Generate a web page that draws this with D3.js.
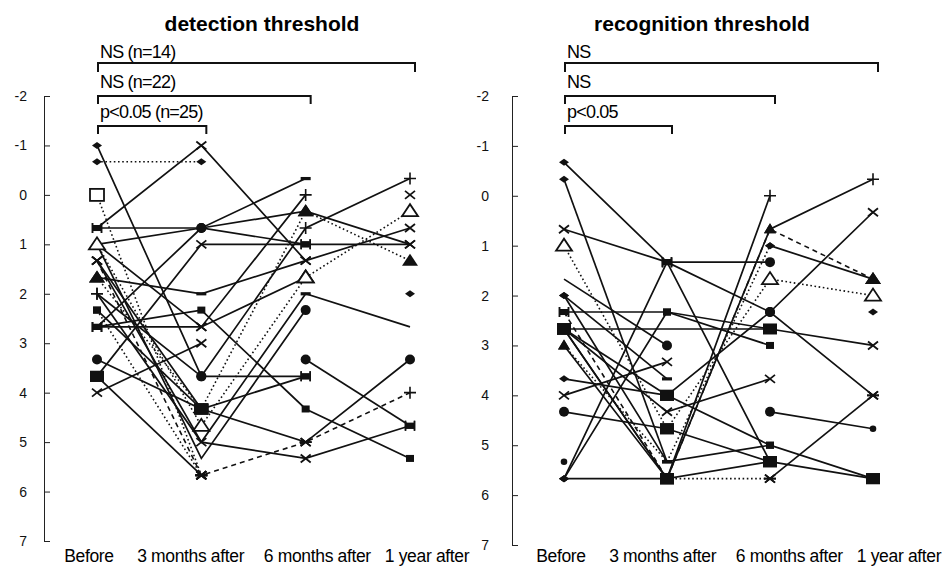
<!DOCTYPE html>
<html><head><meta charset="utf-8">
<script src="https://cdn.jsdelivr.net/npm/d3@7"></script>
<style>
html,body{margin:0;padding:0;background:#fff;}
svg{display:block;font-family:"Liberation Sans",Arial,sans-serif;}
</style></head>
<body><svg id="chart" width="943" height="568"></svg>
<script>
// ---------------- DATA ----------------
const timepoints = ["Before", "3 months after", "6 months after", "1 year after"];
const yTicks = [-2, -1, 0, 1, 2, 3, 4, 5, 6, 7];

// detection threshold: one row per subject, values at the four time points
const detectionValues = [
  [-1, 3.67, 3.67, null],
  [-0.67, -0.67, null, null],
  [0, 5.67, null, null],
  [0.67, -1, 1.33, null],
  [0.67, 0.67, -0.33, null],
  [1, 0.67, 0.33, 1],
  [1, 2.67, 0, null],
  [3.67, 1, 1, 1],
  [1.33, 5.67, 5, 4],
  [3.67, 5.67, null, null],
  [2.67, 0.67, 1, null],
  [1.67, 2, 1.33, 0.67],
  [2.67, 2.67, 1.67, null],
  [2.67, 2.33, 4.33, 5.33],
  [3.33, 4.33, 3.67, null],
  [1.33, 4.33, 5, 3.33],
  [4, 3, null, null],
  [2, 5, 5.33, 4.67],
  [1, 5.33, 2.33, null],
  [1.33, 5, 2, 2.67],
  [null, null, 3.33, 4.67],
  [1, 4.67, 1.67, 0.33],
  [1.67, 4.33, 0.33, 1.33],
  [2.33, 4.33, null, null],
  [null, null, null, 2],
  [null, null, null, 0],
  [2, 3.67, 0.67, -0.33],
  [2.33, 5.67, null, null]
];
const detectionMarkers = [
  "dcb-", "dd--", "qa--", "bxx-", "bch-", "t-Tx", "txp-", "Sxbx", "xaap", "Sa--",
  "bcb-", "Thxx", "bxo-", "bsss", "cSb-", "xSac", "xx--", "pxxb", "t-c-", "x-h-",
  "--cb", "oooo", "TSTT", "sS--", "---d", "---x", "pcpp", "sa--"
];
const detectionDash = [
  "solid", "dotted", "dotted", "solid", "solid", "solid", "solid", "solid", "dashed", "solid",
  "solid", "solid", "solid", "solid", "solid", "solid", "solid", "solid", "solid", "solid",
  "solid", "dotted", "dotted", "solid", "solid", "solid", "solid", "dotted"
];
const detectionBracketLabels = ["NS (n=14)", "NS (n=22)", "p<0.05 (n=25)"];

// recognition threshold
const recognitionValues = [
  [-0.67, 1.33, 1.33, null],
  [-0.33, 5.33, null, null],
  [0.67, 1.33, 2.33, 0.33],
  [1, 4.67, 1.67, 2],
  [1.67, 3, null, null],
  [2, 5.33, 5, 5.67],
  [2.33, 2.33, 2.67, null],
  [2.67, 2.67, 2.67, 3],
  [2.67, 5.67, 0, null],
  [3, 5.67, 0.67, -0.33],
  [3.67, 4, 2.33, 4],
  [4, 3.33, null, null],
  [4.33, 4.67, 5.33, 5.67],
  [5.67, 5.67, null, null],
  [null, 5.67, 5.67, null],
  [null, null, 5.67, 4],
  [5.67, 2.33, 3, null],
  [5.67, 1.33, 5.33, null],
  [2.67, 4.33, 3.67, null],
  [3, 5.33, 1, null],
  [null, null, 1, 1.67],
  [null, null, 4.33, 4.67],
  [null, null, null, 2.33],
  [5.33, null, null, null],
  [2.67, 5.67, 5.33, null],
  [2.33, 5.67, 0.67, 1.67],
  [2.67, 4, 5, null],
  [2, 3.67, null, null]
];
const recognitionMarkers = [
  "dbc-", "dh--", "xbcx", "oSoo", "-c--", "dhsS", "bsS-", "S-bx", "SSp-", "tStp",
  "dSca", "xx--", "cSSS", "dS--", "-Sa-", "--aa", "dss-", "dbS-", "Sxx-", "thd-",
  "--dT", "--ck", "---d", "k---", "SSS-", "bStT", "SSs-", "dh--"
];
const recognitionDash = [
  "solid", "solid", "solid", "dotted", "solid", "solid", "solid", "solid", "solid", "solid",
  "solid", "solid", "solid", "solid", "dotted", "solid", "solid", "solid", "solid", "dotted",
  "solid", "solid", "solid", "solid", "solid", "dashed", "solid", "solid"
];
const recognitionBracketLabels = ["NS", "NS", "p<0.05"];
const bracketEnds = [3, 2, 1];

// ---------------- LAYOUT ----------------
const panels = [
  {title: "detection threshold", titleX: 262, values: detectionValues, markers: detectionMarkers,
   dash: detectionDash, labels: detectionBracketLabels,
   axisX: 44, xRange: [97, 410], yRange: [96, 541], labelRange: [89, 427], tickLabelDx: -17},
  {title: "recognition threshold", titleX: 702, values: recognitionValues, markers: recognitionMarkers,
   dash: recognitionDash, labels: recognitionBracketLabels,
   axisX: 512, xRange: [564, 873], yRange: [96, 545], labelRange: [561, 899], tickLabelDx: -23}
];
const labelShift = [0, -11, 3, 0];
const bracketY = [63, 96, 126];
const bracketTextY = [58, 88, 118];
const bracketDrop = [9, 8, 8];

const svg = d3.select("#chart");
const dashArr = {solid: null, dotted: "1.6,2.6", dashed: "5,4"};

function drawMarker(g, code, x, y) {
  const k = "#111";
  switch (code) {
    case "d": g.append("path").attr("d", `M${x-5},${y}L${x},${y-3.5}L${x+5},${y}L${x},${y+3.5}Z`).attr("fill", k); break;
    case "c": g.append("circle").attr("cx", x).attr("cy", y).attr("r", 5).attr("fill", k); break;
    case "k": g.append("circle").attr("cx", x).attr("cy", y).attr("r", 3.3).attr("fill", k); break;
    case "s": g.append("rect").attr("x", x-4).attr("y", y-3.5).attr("width", 8).attr("height", 7).attr("fill", k); break;
    case "S": g.append("rect").attr("x", x-7).attr("y", y-5.5).attr("width", 14).attr("height", 11).attr("fill", k); break;
    case "t": g.append("path").attr("d", `M${x-6},${y+4}L${x},${y-6}L${x+6},${y+4}Z`).attr("fill", k); break;
    case "T": g.append("path").attr("d", `M${x-8},${y+5}L${x},${y-7}L${x+8},${y+5}Z`).attr("fill", k); break;
    case "o": g.append("path").attr("d", `M${x-8},${y+5}L${x},${y-7}L${x+8},${y+5}Z`).attr("fill", "#fff").attr("stroke", k).attr("stroke-width", 1.8); break;
    case "q": g.append("rect").attr("x", x-7).attr("y", y-6).attr("width", 14).attr("height", 12).attr("fill", "#fff").attr("stroke", k).attr("stroke-width", 1.8); break;
    case "x": g.append("path").attr("d", `M${x-5},${y-4}L${x+5},${y+4}M${x-5},${y+4}L${x+5},${y-4}`).attr("stroke", k).attr("stroke-width", 1.8); break;
    case "p": g.append("path").attr("d", `M${x-6},${y}L${x+6},${y}M${x},${y-6}L${x},${y+6}`).attr("stroke", k).attr("stroke-width", 1.6); break;
    case "a": g.append("path").attr("d", `M${x-6},${y}L${x+6},${y}M${x-5},${y-4}L${x+5},${y+4}M${x-5},${y+4}L${x+5},${y-4}`).attr("stroke", k).attr("stroke-width", 1.8); break;
    case "h": g.append("rect").attr("x", x-5).attr("y", y-1.6).attr("width", 10).attr("height", 3.2).attr("fill", k); break;
    case "b":
      g.append("rect").attr("x", x-4).attr("y", y-3).attr("width", 8).attr("height", 6).attr("fill", k);
      g.append("path").attr("d", `M${x-4.5},${y-5}V${y+5}M${x+4.5},${y-5}V${y+5}`).attr("stroke", k).attr("stroke-width", 1.5);
      break;
  }
}

panels.forEach(p => {
  const x = d3.scalePoint().domain(timepoints).range(p.xRange);
  const xl = d3.scalePoint().domain(timepoints).range(p.labelRange);
  const y = d3.scaleLinear().domain([-2, 7]).range(p.yRange);
  const g = svg.append("g");

  // title
  g.append("text").attr("x", p.titleX).attr("y", 31).attr("text-anchor", "middle")
    .attr("font-size", 21).attr("font-weight", "bold").text(p.title);

  // y axis
  const ax = g.append("g").attr("transform", `translate(${p.axisX},0)`)
    .call(d3.axisRight(y).tickValues(yTicks).tickSize(6).tickSizeOuter(0).tickFormat(d => String(d)));
  ax.select(".domain").attr("stroke", "#222");
  ax.selectAll(".tick line").attr("stroke", "#222");
  ax.selectAll(".tick text").attr("x", p.tickLabelDx).attr("text-anchor", "end")
    .attr("font-size", 14).attr("font-family", "'Liberation Sans',Arial,sans-serif").attr("fill", "#111");

  // x labels
  g.selectAll("text.xl").data(timepoints).enter().append("text").attr("class", "xl")
    .attr("x", (d, i) => xl(d) + labelShift[i]).attr("y", 562).attr("text-anchor", "middle")
    .attr("font-size", 17.5).attr("letter-spacing", "-0.35px").text(d => d);

  // brackets
  p.labels.forEach((lab, i) => {
    const x0 = x(timepoints[0]) + 1, x1 = x(timepoints[bracketEnds[i]]) + 5;
    const by = bracketY[i];
    g.append("path").attr("d", `M${x0},${by + bracketDrop[i]}V${by}H${x1}V${by + bracketDrop[i]}`)
      .attr("fill", "none").attr("stroke", "#111").attr("stroke-width", 2);
    g.append("text").attr("x", x0 + 2).attr("y", bracketTextY[i]).attr("font-size", 18)
      .attr("letter-spacing", "-0.8px").text(lab);
  });

  // lines
  const line = d3.line().defined(d => d.v != null).x(d => x(d.t)).y(d => y(d.v));
  p.values.forEach((vals, si) => {
    const pts = vals.map((v, i) => ({t: timepoints[i], v}));
    g.append("path").datum(pts).attr("d", line).attr("fill", "none")
      .attr("stroke", "#111").attr("stroke-width", p.dash[si] === "solid" ? 1.7 : 1.6)
      .attr("stroke-dasharray", dashArr[p.dash[si]]);
  });
  // markers
  p.values.forEach((vals, si) => {
    vals.forEach((v, i) => {
      if (v == null) return;
      const code = p.markers[si][i];
      if (code && code !== "-") drawMarker(g, code, x(timepoints[i]), y(v));
    });
  });
});
</script>
</body></html>
